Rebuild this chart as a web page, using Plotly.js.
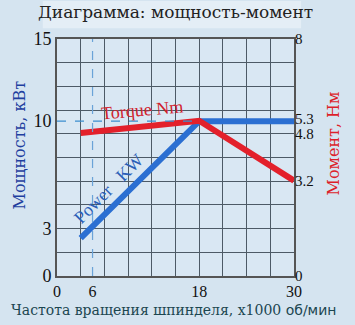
<!DOCTYPE html>
<html>
<head>
<meta charset="utf-8">
<script src="https://cdn.plot.ly/plotly-3.0.1.min.js"></script>
<style>html,body{margin:0;padding:0;background:#d5e4f0;}</style>
</head>
<body>
<div id="chart" style="width:355px;height:325px;"></div>
<script>
// Spindle speed (x1000 rpm), positions as drawn on the chart
const speed = [3, 18, 30];
// Power, kW (left axis)
const power = [2.4, 9.8, 9.8];
// Torque, Nm (right axis)
const torque = [4.83, 5.24, 3.22];

// Tick positions and labels
const xTickVals = [0, 4.5, 18, 30];
const xTickText = ['0', '6', '18', '30'];
const yTickVals = [0, 3, 9.8, 15];
const yTickText = ['0', '3', '10', '15'];
const y2TickVals = [0, 3.2, 4.8, 5.3, 8];
const y2TickText = ['0', '3.2', '4.8', '5.3', '8'];

const serif = '"Liberation Serif", "DejaVu Serif", serif';
const cyr = '"DejaVu Serif", "Liberation Serif", serif';

const traces = [
  {x: speed, y: torque, yaxis: 'y2', mode: 'lines', line: {color: '#e3202b', width: 6}, hoverinfo: 'skip'},
  {x: speed, y: power, yaxis: 'y', mode: 'lines', line: {color: '#2b6fd2', width: 6}, hoverinfo: 'skip'}
];

const gridColor = '#4d5a66';

const layout = {
  width: 355, height: 325,
  margin: {l: 57, r: 61, t: 39, b: 49},
  paper_bgcolor: '#d5e4f0',
  plot_bgcolor: '#d9e7f3',
  showlegend: false,
  xaxis: {
    range: [0, 30], tickmode: 'array', tickvals: xTickVals, ticktext: xTickText,
    showgrid: false, zeroline: false, ticks: '', ticklabelstandoff: 0,
    showline: true, mirror: true, linecolor: '#555', linewidth: 2,
    tickfont: {family: serif, size: 16, color: '#111'},
    minor: {tickmode: 'linear', tick0: 0, dtick: 3, showgrid: true, gridcolor: gridColor, gridwidth: 1, ticks: ''}
  },
  yaxis: {
    range: [0, 15], tickmode: 'array', tickvals: yTickVals, ticktext: yTickText,
    showgrid: false, zeroline: false, ticks: '', ticklabelstandoff: 0,
    showline: true, mirror: true, linecolor: '#555', linewidth: 2,
    tickfont: {family: serif, size: 18, color: '#111'},
    minor: {tickmode: 'linear', tick0: 0, dtick: 1.5, showgrid: true, gridcolor: gridColor, gridwidth: 1, ticks: ''}
  },
  yaxis2: {
    range: [0, 8], overlaying: 'y', side: 'right', tickmode: 'array',
    tickvals: y2TickVals, ticktext: y2TickText,
    showgrid: false, zeroline: false, ticks: '', showline: false,
    tickfont: {family: serif, size: 15, color: '#111'}
  },
  shapes: [
    {type: 'rect', xref: 'paper', yref: 'paper', x0: -0.06, x1: 1.03, y0: 1.045, y1: 1.16,
      fillcolor: '#e4eef6', line: {width: 0}, layer: 'below'},
    {type: 'line', xref: 'x', yref: 'y', x0: 4.5, x1: 4.5, y0: 0, y1: 15,
      line: {color: '#6aa3d8', width: 1.2, dash: 'dash'}},
    {type: 'line', xref: 'x', yref: 'y', x0: 0, x1: 18, y0: 9.8, y1: 9.8,
      line: {color: '#3d8fd0', width: 1.2, dash: 'dash'}}
  ],
  annotations: [
    {text: 'Диаграмма: мощность-момент', xref: 'paper', yref: 'paper', x: 0.50, y: 1.0,
      yshift: 27, xanchor: 'center', yanchor: 'middle', showarrow: false,
      font: {family: cyr, size: 17, color: '#222'}},
    {text: 'Мощность, кВт', xref: 'paper', yref: 'paper', x: 0, y: 0.5, xshift: -38, yshift: 12,
      textangle: -90, xanchor: 'center', yanchor: 'middle', showarrow: false,
      font: {family: cyr, size: 16, color: '#1f3f9f'}},
    {text: 'Момент, Нм', xref: 'paper', yref: 'paper', x: 1, y: 0.5, xshift: 39, yshift: 14,
      textangle: -90, xanchor: 'center', yanchor: 'middle', showarrow: false,
      font: {family: cyr, size: 16, color: '#dd1f2a'}},
    {text: 'Частота вращения шпинделя, х1000 <span style="font-family:\'DejaVu Sans\', sans-serif">об/мин</span>',
      xref: 'paper', yref: 'paper', x: 0.49, y: 0, yshift: -34, xanchor: 'center', yanchor: 'middle',
      showarrow: false, font: {family: cyr, size: 14, color: '#1b4650'}},
    {text: 'Torque Nm', xref: 'x', yref: 'y', x: 10.7, y: 10.5, textangle: -5,
      xanchor: 'center', yanchor: 'middle', showarrow: false,
      font: {family: serif, size: 18, color: '#d0202b'}},
    {text: 'Power\u00A0\u00A0\u00A0KW', xref: 'x', yref: 'y', x: 6.5, y: 5.5, textangle: -45,
      xanchor: 'center', yanchor: 'middle', showarrow: false,
      font: {family: serif, size: 18, color: '#2b5fb8'}}
  ]
};

Plotly.newPlot('chart', traces, layout, {displayModeBar: false, staticPlot: true});
</script>
</body>
</html>
